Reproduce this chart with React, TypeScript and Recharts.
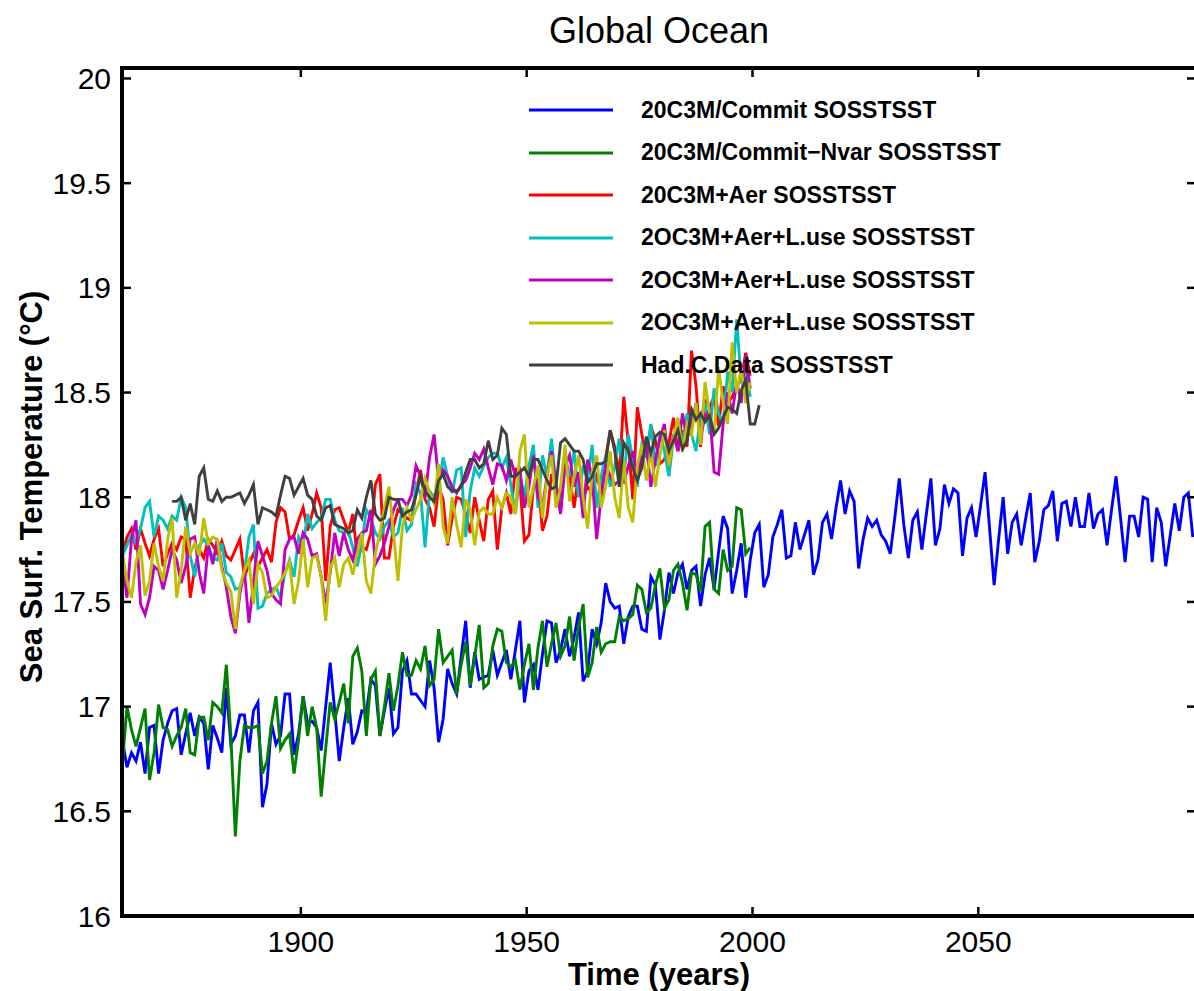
import { LineChart, Line, XAxis, YAxis, Legend } from "recharts";

const FONT = '"Liberation Sans", Arial, Helvetica, sans-serif';

// annual means, plotted at mid-year
const MODEL_START = 1860.5;
const HADC_START = 1871.5;

const X_TICKS = [1900, 1950, 2000, 2050];
const Y_TICKS = [16, 16.5, 17, 17.5, 18, 18.5, 19, 19.5, 20];

const commitSst = [
  16.84, 16.71, 16.78, 16.74, 16.83, 16.68, 16.9, 16.91, 16.68, 16.84,
  16.92, 16.98, 16.99, 16.77, 16.87, 16.97, 16.86, 16.95, 16.92, 16.7,
  16.91, 16.85, 16.78, 17.09, 16.82, 16.86, 16.96, 16.96, 16.78, 16.98,
  17.02, 16.52, 16.63, 16.92, 16.82, 16.86, 17.06, 17.06, 16.77, 16.87,
  17.05, 16.92, 16.93, 16.9,
  16.79, 17.0, 17.21, 16.98, 16.74, 16.9, 17.04, 16.82, 16.88, 16.98,
  16.97, 17.13, 17.1, 16.86, 16.98, 17.09, 16.87, 16.9, 17.17, 17.22,
  17.06, 17.06, 17.03, 17.0, 17.22, 17.09, 16.83, 16.94, 17.18, 17.11,
  17.06, 17.24, 17.41, 17.09, 17.26, 17.13, 17.14, 17.15, 17.27, 17.15,
  17.21, 17.27, 17.13, 17.27, 17.41, 17.02, 17.17, 17.2, 17.08, 17.25,
  17.41, 17.4, 17.21, 17.27, 17.37, 17.24, 17.33, 17.45, 17.12, 17.17,
  17.37, 17.3, 17.4, 17.59, 17.5, 17.47, 17.48, 17.3, 17.43, 17.48,
  17.48, 17.37, 17.36, 17.62, 17.58, 17.32, 17.46, 17.64, 17.54, 17.64,
  17.68, 17.56, 17.65, 17.67, 17.48, 17.63, 17.71, 17.56, 17.74, 17.91,
  17.85, 17.54, 17.65, 17.78, 17.52, 17.7, 17.83, 17.87, 17.57, 17.63,
  17.81, 17.87, 17.94, 17.71, 17.72, 17.88, 17.75, 17.82, 17.89, 17.63,
  17.7, 17.88, 17.92, 17.8, 17.95, 18.08, 17.92, 18.03, 17.98, 17.66,
  17.8, 17.9, 17.86, 17.89, 17.82, 17.79, 17.73, 17.9, 18.09, 17.87,
  17.71, 17.89, 17.93, 17.75, 17.92, 18.09, 17.77, 17.85, 18.06, 17.97,
  18.04, 18.02, 17.72, 17.9, 17.95, 17.81, 17.96, 18.12, 17.85, 17.58,
  17.8, 18.0, 17.73, 17.88, 17.92, 17.77, 17.9, 18.02, 17.69, 17.79,
  17.94, 17.96, 18.03, 17.79, 17.97, 17.98, 17.86, 18.0, 17.86, 17.86,
  18.02, 17.85, 17.92, 17.94, 17.77, 17.94, 18.1, 17.9, 17.69, 17.91,
  17.91, 17.81, 18.0, 17.99, 17.69, 17.95, 17.88, 17.67, 17.82, 17.97,
  17.84, 18.0, 18.02, 17.81,
];

const commitNvarSst = [
  16.73, 17.0, 16.89, 16.81, 16.9, 16.99, 16.65, 16.78, 17.01, 16.9,
  16.89, 16.81, 16.86, 16.9, 16.99, 16.78, 16.77, 16.95, 16.95, 16.84,
  17.02, 17.0, 16.97, 17.2, 16.86, 16.38, 16.74, 16.91, 16.9, 16.9,
  16.91, 16.68, 16.74, 16.92, 17.05, 16.8, 16.84, 16.87, 16.68, 16.84,
  17.05, 16.86, 17.0, 16.9,
  16.57, 16.8, 17.02, 16.94, 17.02, 17.11, 16.92, 17.24, 17.28, 17.17,
  16.86, 17.13, 17.17, 16.86, 17.0, 17.16, 16.98, 17.1, 17.26, 17.15,
  17.15, 17.22, 17.18, 17.29, 17.1, 17.13, 17.37, 17.21, 17.24, 17.27,
  17.06, 17.2, 17.31, 17.1, 17.24, 17.39, 17.09, 17.11, 17.29,
  17.37, 17.36, 17.21, 17.19, 17.22, 17.08, 17.2, 17.3, 17.08, 17.28,
  17.41, 17.19, 17.3, 17.4, 17.24, 17.29, 17.43, 17.22, 17.38, 17.49,
  17.14, 17.21, 17.38, 17.26, 17.3, 17.31, 17.31, 17.43, 17.41, 17.42,
  17.44, 17.58, 17.56, 17.45, 17.47, 17.58, 17.66, 17.47, 17.51, 17.65,
  17.68, 17.59, 17.46, 17.64, 17.63, 17.55, 17.86, 17.88, 17.56, 17.54,
  17.75, 17.65, 17.67, 17.95, 17.94, 17.73, 17.76,
];

const aerSst = [
  17.73, 17.81, 17.85, 17.75, 17.85, 17.78, 17.72, 17.8, 17.85, 17.67,
  17.73, 17.78, 17.75, 17.81, 17.8, 17.52, 17.66, 17.75, 17.71, 17.8,
  17.77, 17.73, 17.79, 17.72, 17.7, 17.75, 17.8, 17.62, 17.68, 17.73,
  17.67, 17.71, 17.75, 17.69, 17.88, 17.95, 17.93, 17.8, 17.82, 17.89,
  17.95, 17.84, 17.92, 18.02,
  17.95, 17.6, 17.86, 17.94, 17.95, 17.89, 17.83, 17.92, 17.71, 17.76,
  17.75, 17.83, 18.06, 18.11, 17.71, 17.71, 17.86, 17.94, 17.92, 17.9,
  17.89, 18.02, 18.13, 17.99, 17.95, 17.86, 18.05, 17.99, 17.77, 17.9,
  18.0, 17.99, 17.92, 17.83, 18.0, 17.89, 17.79, 17.99, 18.03, 17.75,
  17.95, 18.02, 17.92, 18.14, 18.06,
  17.79, 17.82, 18.05, 18.08, 17.84, 17.91, 18.11, 18.05, 18.0, 18.19,
  18.1, 17.95, 18.11, 18.0, 18.05, 18.02, 18.1, 18.03, 18.19, 18.32,
  18.24, 18.1, 18.48, 18.26, 17.99, 18.43, 18.3, 18.19, 18.34, 18.27,
  18.16, 18.18, 18.26, 18.38, 18.22, 18.32, 18.24, 18.7, 18.53, 18.24,
  18.46, 18.43, 18.48, 18.34, 18.53, 18.45, 18.48, 18.53, 18.56, 18.69,
  18.58,
];

const aerLuseSstA = [
  17.72, 17.77, 17.82, 17.78, 17.85, 17.95, 17.98, 17.81, 17.91, 17.89,
  17.85, 17.91, 17.89, 18.0, 17.95, 17.72, 17.62, 17.77, 17.8, 17.77,
  17.71, 17.7, 17.78, 17.64, 17.62, 17.56, 17.57, 17.64, 17.81, 17.87,
  17.47, 17.48, 17.54, 17.56, 17.57, 17.52, 17.64, 17.7, 17.62, 17.81,
  17.77, 17.92, 17.85, 17.88,
  17.9, 17.99, 17.99, 17.89, 17.84, 17.83, 17.84, 17.76, 17.67, 17.78,
  17.94, 17.9, 17.83, 17.8, 17.86, 17.89, 17.81, 17.83, 17.95, 17.84,
  17.87, 18.06, 18.02, 17.76, 18.03, 18.0, 18.05, 18.19, 18.1, 18.02,
  18.13, 18.14, 17.81, 18.03, 18.14, 18.1, 18.15, 18.19, 18.21, 18.21,
  18.14, 18.19, 18.06, 17.92, 18.11,
  18.0, 18.15, 18.25, 17.95, 18.2, 18.1, 18.28, 18.05, 17.93, 18.18,
  18.1, 18.22, 18.0, 18.15, 18.08, 18.25, 17.95, 18.1, 18.2, 18.05,
  18.15, 18.28, 18.1, 18.3, 18.18, 18.05, 18.25, 18.2, 18.35, 18.15,
  18.3, 18.22, 18.1, 18.28, 18.35, 18.25, 18.4, 18.3, 18.22, 18.38,
  18.45, 18.3, 18.52, 18.4, 18.35, 18.6, 18.5, 18.85, 18.55, 18.62,
  18.48,
];

const aerLuseSstB = [
  17.69, 17.52, 17.8, 17.89, 17.49, 17.44, 17.52, 17.67, 17.65, 17.56,
  17.65, 17.75, 17.7, 17.59, 17.67, 17.8, 17.81, 17.64, 17.54, 17.77,
  17.68, 17.8, 17.67, 17.57, 17.43, 17.35, 17.54, 17.65, 17.4, 17.59,
  17.79, 17.72, 17.65, 17.54, 17.51, 17.49, 17.75, 17.8, 17.81, 17.73,
  17.83, 17.8, 17.72, 17.73,
  17.62, 17.49, 17.64, 17.83, 17.72, 17.83, 17.75, 17.7, 17.8, 17.83,
  17.84, 17.94, 17.68, 17.72, 17.78, 17.86, 17.94, 17.99, 17.99, 17.96,
  18.01, 18.15, 18.1, 18.0, 18.19, 18.3, 18.08, 18.13, 18.1, 18.05,
  18.02, 18.06, 18.08, 18.14, 18.21, 18.18, 18.23, 18.14, 18.06, 18.16,
  18.15, 18.08, 18.18, 18.1, 18.13,
  17.95, 18.05, 18.2, 18.0, 17.95, 18.1, 18.22, 18.05, 17.92, 18.15,
  18.2, 18.05, 18.12, 17.9, 18.18, 18.1, 17.8, 18.0, 18.15, 18.1,
  18.06, 18.08, 18.07, 18.15, 18.22, 18.1, 18.2, 18.25, 18.05, 18.18,
  18.28, 18.35, 18.15, 18.3, 18.22, 18.4, 18.28, 18.35, 18.45, 18.3,
  18.38, 18.42, 18.12, 18.11, 18.35, 18.5, 18.4, 18.55, 18.45, 18.68,
  18.52,
];

const aerLuseSstC = [
  17.73, 17.6, 17.52, 17.69, 17.77, 17.53, 17.6, 17.78, 17.67, 17.6,
  17.8, 17.9, 17.52, 17.65, 17.86, 17.73, 17.78, 17.72, 17.9, 17.78,
  17.81, 17.8, 17.65, 17.59, 17.55, 17.37, 17.57, 17.65, 17.7, 17.49,
  17.68, 17.64, 17.52, 17.53, 17.57, 17.6, 17.64, 17.69, 17.49, 17.6,
  17.8, 17.57, 17.71, 17.72,
  17.62, 17.41, 17.66, 17.71, 17.57, 17.68, 17.71, 17.63, 17.73, 17.83,
  17.6, 17.54, 17.73, 17.83, 17.95, 18.05, 17.83, 17.6, 17.86, 17.95,
  17.89, 17.94, 17.99, 18.09, 18.02, 17.97, 18.16, 17.86, 17.78, 18.0,
  17.87, 17.76, 17.99, 17.94, 17.77, 17.93, 17.95, 17.92, 17.92, 18.0,
  17.95, 18.02, 18.0, 17.92, 18.22,
  18.3, 17.95, 18.05, 18.15, 17.9, 18.1, 18.2, 17.95, 18.05, 18.25,
  17.98, 18.1, 18.2, 18.0, 17.85, 18.12, 18.2, 17.95, 18.05, 18.22,
  18.0, 17.9, 18.18, 17.95, 17.88, 18.15, 18.25, 18.08, 18.22, 18.05,
  18.2, 18.32, 18.15, 18.28, 18.38, 18.22, 18.35, 18.3, 18.45, 18.25,
  18.55, 18.4, 18.3, 18.62, 18.45, 18.35, 18.74, 18.5, 18.62, 18.45,
  18.55,
];

const hadcSst = [
  17.98, 17.98, 18.0, 17.89, 17.97, 17.87, 18.1, 18.14, 17.99, 17.98,
  18.03, 17.98, 18.0, 18.0, 18.01, 18.02, 17.97, 18.01, 18.06, 17.87,
  17.95, 17.94, 17.93, 17.91, 18.01, 18.1, 18.09, 18.01, 18.05, 18.09,
  18.01, 17.99, 17.91,
  17.89, 17.95, 17.96, 17.87, 17.86, 17.85, 17.83, 17.84, 17.94, 17.9,
  18.0, 18.08, 17.92, 17.89, 17.9, 18.0, 17.99, 17.99, 17.91, 17.93,
  17.94, 18.01, 18.1, 18.03, 18.0, 17.98, 18.08, 18.11, 18.05, 18.03,
  18.03, 18.05, 18.12, 18.18, 18.18, 18.14, 18.16, 18.27, 18.18, 18.2,
  18.33, 18.3, 18.1, 18.1, 18.12,
  18.14, 18.1, 18.18, 18.18, 18.13, 18.08, 18.04, 18.05, 18.26, 18.28,
  18.25, 18.22, 18.22, 18.18, 18.07, 18.1, 18.16, 18.16, 18.17, 18.32,
  18.22, 18.05, 18.26, 18.22, 18.14, 18.08, 18.14, 18.29, 18.21, 18.29,
  18.31, 18.3, 18.22, 18.27, 18.32, 18.23, 18.27, 18.42, 18.37, 18.4,
  18.36, 18.39, 18.3, 18.33, 18.38, 18.43, 18.42, 18.4, 18.51, 18.56,
  18.35, 18.35, 18.44,
];

// the observations are drawn against the top/right axes (same domains),
// so that the mirrored frame axes have a series of their own
const SERIES = [
  { name: "20C3M/Commit SOSSTSST", color: "#0000ff", start: MODEL_START, values: commitSst, frame: false },
  { name: "20C3M/Commit\u2212Nvar SOSSTSST", color: "#008000", start: MODEL_START, values: commitNvarSst, frame: false },
  { name: "20C3M+Aer SOSSTSST", color: "#ff0000", start: MODEL_START, values: aerSst, frame: false },
  { name: "2OC3M+Aer+L.use SOSSTSST", color: "#00bfbf", start: MODEL_START, values: aerLuseSstA, frame: false },
  { name: "2OC3M+Aer+L.use SOSSTSST", color: "#bf00bf", start: MODEL_START, values: aerLuseSstB, frame: false },
  { name: "2OC3M+Aer+L.use SOSSTSST", color: "#bfbf00", start: MODEL_START, values: aerLuseSstC, frame: false },
  { name: "Had.C.Data SOSSTSST", color: "#404040", start: HADC_START, values: hadcSst, frame: true },
];

const X_DOMAIN: [number, number] = [1860.4, 2098.2];
const Y_DOMAIN: [number, number] = [16, 20.05];

const toPoints = (start: number, values: number[]) =>
  values.map((v, i) => ({ t: start + i, v }));

const TICK_LEN = 9;
const tickText = { fontFamily: FONT, fontSize: 30, fill: "#000" };

function BottomTick({ x, y, payload }: any) {
  return (
    <g>
      <line x1={x} y1={y} x2={x} y2={y - TICK_LEN} stroke="#000" strokeWidth={2.5} />
      <text x={x} y={y + 36} textAnchor="middle" {...tickText}>
        {payload.value}
      </text>
    </g>
  );
}

function TopTick({ x, y }: any) {
  return <line x1={x} y1={y} x2={x} y2={y + TICK_LEN} stroke="#000" strokeWidth={2.5} />;
}

function LeftTick({ x, y, payload }: any) {
  return (
    <g>
      <line x1={x} y1={y} x2={x + TICK_LEN} y2={y} stroke="#000" strokeWidth={2.5} />
      <text x={x - 11} y={y + 10.5} textAnchor="end" {...tickText}>
        {payload.value}
      </text>
    </g>
  );
}

function RightTick({ x, y }: any) {
  return <line x1={x} y1={y} x2={x - TICK_LEN} y2={y} stroke="#000" strokeWidth={2.5} />;
}

function LegendBox() {
  return (
    <div style={{ fontFamily: FONT, fontWeight: 700, fontSize: 23, color: "#000" }}>
      {SERIES.map((s, i) => (
        <div key={i} style={{ display: "flex", alignItems: "center", height: 42.5 }}>
          <svg width={84} height={6} style={{ display: "block" }}>
            <line x1={0} y1={3} x2={84} y2={3} stroke={s.color} strokeWidth={3} />
          </svg>
          <span style={{ marginLeft: 28, whiteSpace: "nowrap" }}>{s.name}</span>
        </div>
      ))}
    </div>
  );
}

const axisLine = { stroke: "#000", strokeWidth: 4, strokeLinecap: "square" as const };

export default function App() {
  return (
    <div
      style={{
        position: "absolute",
        left: 0,
        top: 0,
        width: 1194,
        height: 991,
        overflow: "hidden",
        background: "#fff",
        fontFamily: FONT,
      }}
    >
      <LineChart width={1210} height={991} margin={{ top: 67, right: 13, bottom: 15, left: 0 }}>
        <XAxis
          dataKey="t"
          type="number"
          domain={X_DOMAIN}
          ticks={X_TICKS}
          allowDataOverflow
          height={60}
          tickSize={0}
          tickMargin={0}
          tickLine={false}
          axisLine={axisLine}
          tick={<BottomTick />}
        />
        <XAxis
          xAxisId="top"
          orientation="top"
          dataKey="t"
          type="number"
          domain={X_DOMAIN}
          ticks={X_TICKS}
          allowDataOverflow
          height={1}
          tickSize={0}
          tickMargin={0}
          tickLine={false}
          axisLine={axisLine}
          tick={<TopTick />}
        />
        <YAxis
          type="number"
          domain={Y_DOMAIN}
          ticks={Y_TICKS}
          allowDataOverflow
          width={122}
          tickSize={0}
          tickMargin={0}
          tickLine={false}
          axisLine={axisLine}
          tick={<LeftTick />}
        />
        <YAxis
          yAxisId="right"
          orientation="right"
          type="number"
          domain={Y_DOMAIN}
          ticks={Y_TICKS}
          allowDataOverflow
          width={1}
          tickSize={0}
          tickMargin={0}
          tickLine={false}
          axisLine={axisLine}
          tick={<RightTick />}
        />
        {SERIES.map((s, i) => (
          <Line
            key={i}
            xAxisId={s.frame ? "top" : 0}
            yAxisId={s.frame ? "right" : 0}
            data={toPoints(s.start, s.values)}
            dataKey="v"
            name={s.name}
            type="linear"
            stroke={s.color}
            strokeWidth={2.9}
            dot={false}
            activeDot={false}
            isAnimationActive={false}
          />
        ))}
        <Legend
          layout="vertical"
          align="center"
          verticalAlign="middle"
          content={<LegendBox />}
          wrapperStyle={{ position: "absolute", left: 529, top: 89, width: 560 }}
        />
      </LineChart>
      <div
        style={{
          position: "absolute",
          left: 659,
          top: 13,
          transform: "translateX(-50%)",
          fontSize: 36,
          lineHeight: 1,
          whiteSpace: "nowrap",
        }}
      >
        Global Ocean
      </div>
      <div
        style={{
          position: "absolute",
          left: 659,
          top: 959,
          transform: "translateX(-50%)",
          fontSize: 31,
          fontWeight: 700,
          lineHeight: 1,
          whiteSpace: "nowrap",
        }}
      >
        Time (years)
      </div>
      <div
        style={{
          position: "absolute",
          left: 31,
          top: 487,
          transform: "translate(-50%, -50%) rotate(-90deg)",
          fontSize: 31,
          fontWeight: 700,
          lineHeight: 1,
          whiteSpace: "nowrap",
        }}
      >
        Sea Surf. Temperature (°C)
      </div>
    </div>
  );
}
